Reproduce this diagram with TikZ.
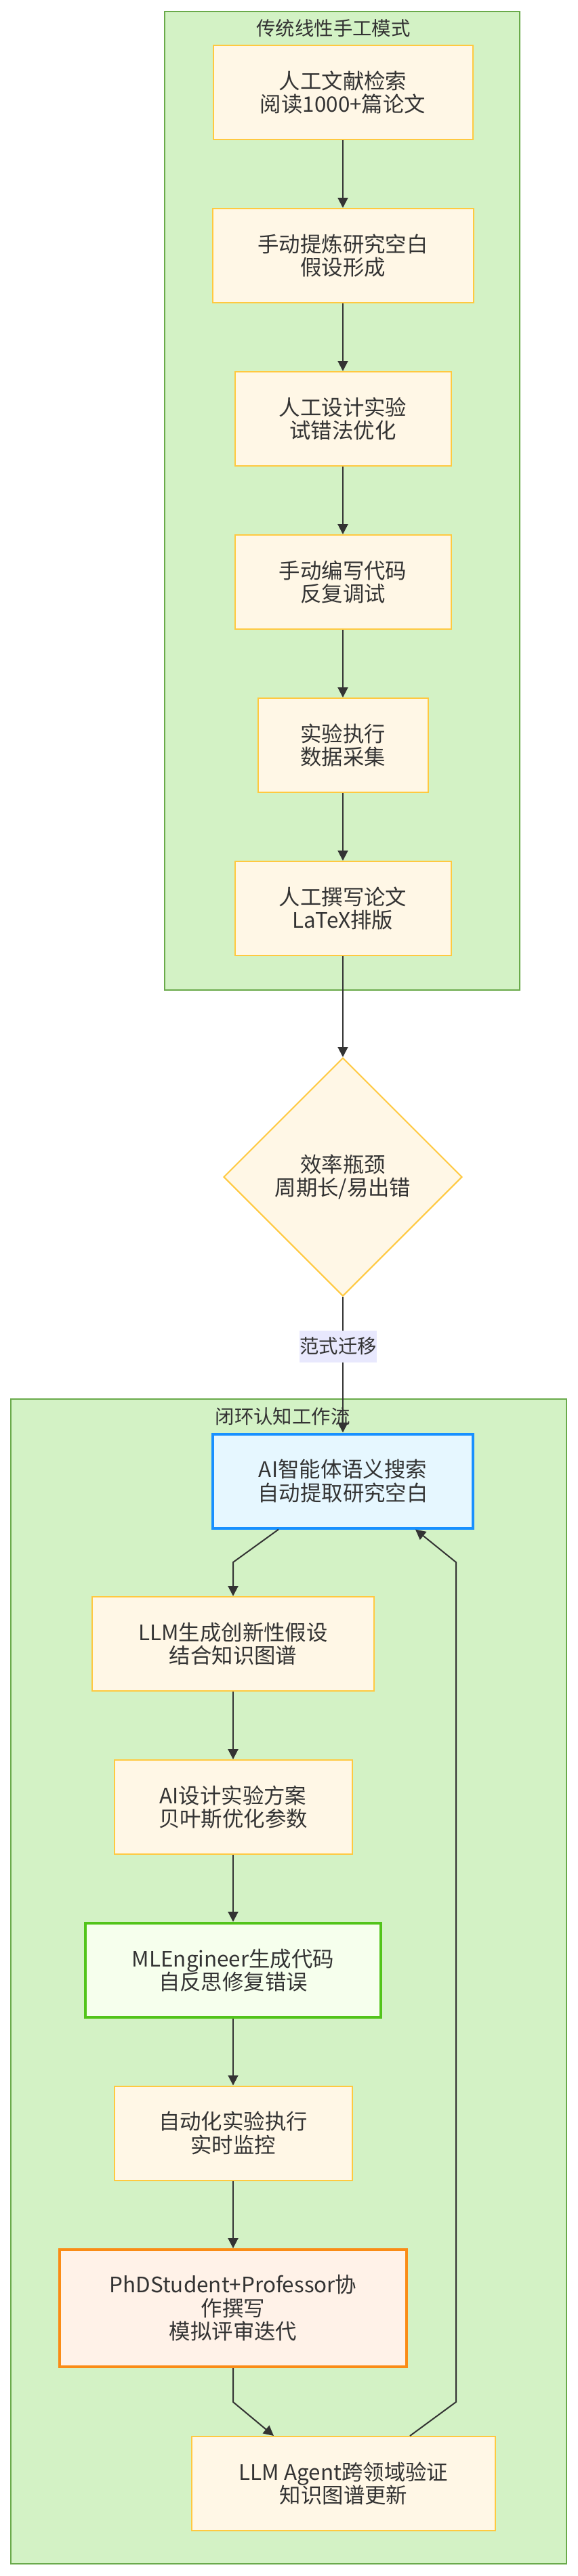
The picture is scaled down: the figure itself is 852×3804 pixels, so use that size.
\documentclass[tikz,border=0pt]{standalone}
\usepackage{fontspec}
\setmainfont{Noto Sans CJK SC}
\usetikzlibrary{arrows.meta,shapes.geometric}
\definecolor{clfill}{HTML}{D3F2C5}
\definecolor{clstroke}{HTML}{6AAA4B}
\definecolor{ndfill}{HTML}{FFF7E6}
\definecolor{ndstroke}{HTML}{FFC940}
\definecolor{txt}{HTML}{333333}
\definecolor{bluefill}{HTML}{E6F7FF}
\definecolor{bluestroke}{HTML}{1890FF}
\definecolor{grnfill}{HTML}{F6FFED}
\definecolor{grnstroke}{HTML}{52C41A}
\definecolor{orgfill}{HTML}{FFF2E8}
\definecolor{orgstroke}{HTML}{FA8C16}
\definecolor{lblbg}{HTML}{E8E8FD}
\newcommand\nodefnt{\fontsize{31.4pt}{34.5pt}\selectfont}
\newcommand\smallfnt{\fontsize{28.4pt}{34pt}\selectfont}
\begin{document}
\begin{tikzpicture}[x=1pt,y=-1pt,
  cluster/.style={draw=clstroke,fill=clfill,line width=2pt},
  ttl/.style={text=txt,font=\smallfnt,inner sep=0pt},
  box/.style={draw=ndstroke,fill=ndfill,line width=2pt,text=txt,font=\nodefnt,
    align=center,inner sep=0pt,minimum height=139pt},
  bluebox/.style={box,draw=bluestroke,fill=bluefill,line width=4pt},
  grnbox/.style={box,draw=grnstroke,fill=grnfill,line width=4pt},
  orgbox/.style={box,draw=orgstroke,fill=orgfill,line width=4pt},
  decision/.style={shape=diamond,aspect=1,draw=ndstroke,fill=ndfill,line width=2pt,
    text=txt,font=\nodefnt,align=center,inner sep=0pt,minimum width=352pt,minimum height=352pt},
  lbl/.style={fill=lblbg,text=txt,font=\smallfnt,inner sep=0pt,minimum width=114pt,minimum height=47pt},
  arr/.style={draw=txt,line width=2pt,-{Triangle[length=15pt,width=15pt]}}
]
\fill[white] (0,0) rectangle (852,3804);
\useasboundingbox (0,0) rectangle (852,3804);

% cluster 1
\draw[cluster] (243,17) rectangle (767,1462);
\node[ttl] (t1) at (492,42) {传统线性手工模式};
\node[box,minimum width=383pt] (A1) at (506,136.5) {人工文献检索\\阅读1000+篇论文};
\node[box,minimum width=385pt] (A2) at (506,377.5) {手动提炼研究空白\\假设形成};
\node[box,minimum width=319pt] (A3) at (506,618.5) {人工设计实验\\试错法优化};
\node[box,minimum width=319pt] (A4) at (506,859.5) {手动编写代码\\反复调试};
\node[box,minimum width=251pt] (A5) at (506,1100.5) {实验执行\\数据采集};
\node[box,minimum width=319pt] (A6) at (506,1341.5) {人工撰写论文\\LaTeX排版};
\draw[arr] (A1) -- (A2);
\draw[arr] (A2) -- (A3);
\draw[arr] (A3) -- (A4);
\draw[arr] (A4) -- (A5);
\draw[arr] (A5) -- (A6);

% decision
\node[decision] (D) at (506,1738) {效率瓶颈\\周期长/易出错};
\draw[arr] (A6) -- (D);

% cluster 2
\draw[cluster] (16,2066) rectangle (836,3786);
\node[ttl] (t2) at (417,2092) {闭环认知工作流};
\node[bluebox,minimum width=384pt] (B1) at (506,2187) {AI智能体语义搜索\\自动提取研究空白};
\node[box,minimum width=416pt] (B2) at (344,2427.5) {LLM生成创新性假设\\结合知识图谱};
\node[box,minimum width=351pt] (B3) at (344,2668.5) {AI设计实验方案\\贝叶斯优化参数};
\node[grnbox,minimum width=436pt] (B4) at (344,2909.5) {MLEngineer生成代码\\自反思修复错误};
\node[box,minimum width=351pt] (B5) at (344,3150) {自动化实验执行\\实时监控};
\node[orgbox,minimum width=512pt,minimum height=173pt] (B6) at (344,3408.5) {PhDStudent+Professor协\\作撰写\\模拟评审迭代};
\node[box,minimum width=448pt] (B7) at (507,3667.5) {LLM Agent跨领域验证\\知识图谱更新};

\draw[arr] (D) -- (B1);
\node[lbl] (L) at (499,1988) {范式迁移};

\coordinate (b12) at (344,2307);
\coordinate (b67) at (344,3547);
\coordinate (r1) at (673,3547);
\coordinate (r2) at (673,2307);
\draw[arr] ([xshift=-95pt]B1.south) -- (b12) -- (B2.north);
\draw[arr] (B2) -- (B3);
\draw[arr] (B3) -- (B4);
\draw[arr] (B4) -- (B5);
\draw[arr] (B5) -- (B6);
\draw[arr] (B6.south) -- (b67) -- ([xshift=-103pt]B7.north);
\draw[arr] ([xshift=98pt]B7.north) -- (r1) -- (r2) -- ([xshift=107pt]B1.south);
\end{tikzpicture}
\end{document}
